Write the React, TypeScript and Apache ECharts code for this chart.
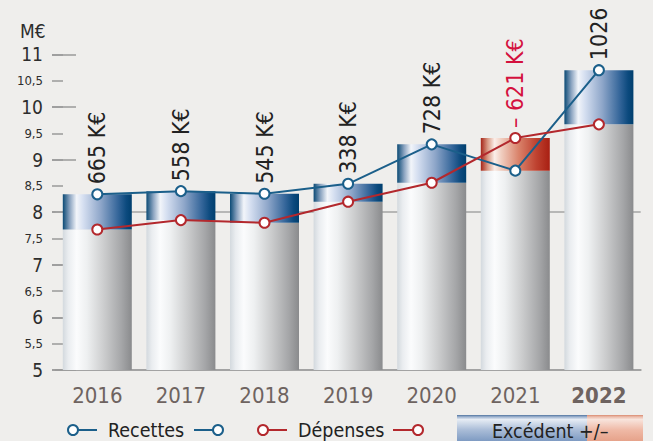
import React, { useEffect, useRef } from "react";
import * as echarts from "echarts";

const years = ["2016", "2017", "2018", "2019", "2020", "2021", "2022"];
const recettes = [8.34, 8.4, 8.35, 8.54, 9.29, 8.79, 10.7];
const depenses = [7.67, 7.85, 7.8, 8.2, 8.56, 9.41, 9.67];
const excedentLabels = ["665 K€", "558 K€", "545 K€", "338 K€", "728 K€", "– 621 K€", "1026 K€"];
const yMin = 5;
const yMax = 11;
const refLine = 8;

const FONT = "'Liberation Sans Narrow', 'DejaVu Sans Condensed', 'Noto Sans', sans-serif";
const BLUE = "#1b5f8a";
const RED = "#b3282d";

const grayGrad = {
  type: "linear", x: 0, y: 0, x2: 1, y2: 0,
  colorStops: [
    { offset: 0, color: "#d3d9de" },
    { offset: 0.08, color: "#eaedf0" },
    { offset: 0.2, color: "#fbfcfd" },
    { offset: 0.35, color: "#eef0f1" },
    { offset: 0.6, color: "#cbcccd" },
    { offset: 0.85, color: "#a5a6a8" },
    { offset: 1, color: "#8a8b8d" },
  ],
};
const blueGrad = {
  type: "linear", x: 0, y: 0, x2: 1, y2: 0,
  colorStops: [
    { offset: 0, color: "#0b4a75" },
    { offset: 0.1, color: "#8aa3c0" },
    { offset: 0.2, color: "#f2f5fa" },
    { offset: 0.3, color: "#d4def0" },
    { offset: 0.55, color: "#8ea6c9" },
    { offset: 0.8, color: "#35669a" },
    { offset: 0.92, color: "#0c4a7e" },
    { offset: 1, color: "#003f6e" },
  ],
};
const redGrad = {
  type: "linear", x: 0, y: 0, x2: 1, y2: 0,
  colorStops: [
    { offset: 0, color: "#a52418" },
    { offset: 0.1, color: "#d99a85" },
    { offset: 0.2, color: "#fbeee9" },
    { offset: 0.3, color: "#f0cdbf" },
    { offset: 0.55, color: "#d9826a" },
    { offset: 0.8, color: "#bf4331" },
    { offset: 1, color: "#a81f12" },
  ],
};

export default function App() {
  const ref = useRef<HTMLDivElement>(null);
  useEffect(() => {
    document.body.style.margin = "0";
    const chart = echarts.init(ref.current!, null, { renderer: "svg" });
    const base = years.map((_, i) => Math.min(recettes[i], depenses[i]));
    const diff = years.map((_, i) => {
      const pos = recettes[i] >= depenses[i];
      return {
        value: Math.abs(recettes[i] - depenses[i]),
        itemStyle: { color: pos ? blueGrad : redGrad },
        label: { color: pos ? "#222222" : "#d4113e" },
      };
    });
    const option: any = {
      animation: false,
      backgroundColor: "#efeeec",
      grid: { left: 55.5, right: 12.3, top: 54.4, bottom: 71 },
      xAxis: {
        type: "category",
        data: years,
        axisTick: { show: false },
        axisLine: { lineStyle: { color: "#a3a3a3", width: 2 } },
        axisLabel: {
          interval: 0,
          margin: 14,
          fontSize: 22,
          fontFamily: FONT,
          color: "#6e6360",
          formatter: (v: string) => (v === "2022" ? `{b|${v}}` : v),
          rich: { b: { fontSize: 22, fontFamily: FONT, color: "#6e6360", fontWeight: "bold" } },
        },
      },
      yAxis: [
        {
          type: "value", position: "left", min: yMin, max: yMax, interval: 1, offset: 3.5,
          axisLine: { show: false },
          splitLine: { show: false },
          axisTick: { show: true, inside: true, length: 24, lineStyle: { color: "#9a9a9a", width: 1.5 } },
          axisLabel: { margin: 9, fontSize: 19, fontFamily: FONT, color: "#2d2d2d" },
        },
        {
          type: "value", position: "left", min: yMin, max: yMax, interval: 0.5, offset: 3.5,
          axisLine: { show: false },
          splitLine: { show: false },
          axisTick: { show: true, inside: true, length: 11, lineStyle: { color: "#9a9a9a", width: 1.5 } },
          axisLabel: {
            margin: 9, fontSize: 13, fontFamily: FONT, color: "#2d2d2d",
            formatter: (v: number) => (Number.isInteger(v) ? "" : String(v).replace(".", ",")),
          },
        },
      ],
      series: [
        {
          type: "line",
          data: [],
          silent: true,
          markLine: {
            z: 1,
            silent: true,
            symbol: "none",
            label: { show: false },
            lineStyle: { color: "#a5a5a5", width: 1.5, type: "solid" },
            data: [{ yAxis: refLine }],
          },
        },
        {
          type: "bar", stack: "s", z: 2, barWidth: 69, data: base,
          itemStyle: { color: grayGrad },
        },
        {
          type: "bar", stack: "s", z: 2, barWidth: 69, data: diff,
          label: {
            show: true, position: "top", rotate: 90, align: "left", verticalAlign: "middle",
            distance: 10, fontSize: 23, fontFamily: FONT,
            formatter: (p: any) => excedentLabels[p.dataIndex],
          },
        },
        {
          type: "line", name: "Recettes", z: 4, data: recettes,
          symbol: "circle", symbolSize: 10,
          lineStyle: { color: BLUE, width: 2 },
          itemStyle: { color: "#ffffff", borderColor: BLUE, borderWidth: 2 },
        },
        {
          type: "line", name: "Dépenses", z: 4, data: depenses,
          symbol: "circle", symbolSize: 10,
          lineStyle: { color: RED, width: 2 },
          itemStyle: { color: "#ffffff", borderColor: RED, borderWidth: 2 },
        },
      ],
      graphic: [
        { type: "text", left: 20, top: 21, style: { text: "M€", fontSize: 19, fontFamily: FONT, fill: "#2d2d2d" } },
        // legend Recettes
        { type: "line", shape: { x1: 78, y1: 430, x2: 97, y2: 430 }, style: { stroke: BLUE, lineWidth: 2 } },
        { type: "circle", shape: { cx: 73, cy: 430, r: 5 }, style: { fill: "#fff", stroke: BLUE, lineWidth: 2 } },
        { type: "text", x: 108, y: 430, style: { text: "Recettes", fontSize: 19.5, fontFamily: FONT, fill: "#222", verticalAlign: "middle" } },
        { type: "line", shape: { x1: 194, y1: 430, x2: 213, y2: 430 }, style: { stroke: BLUE, lineWidth: 2 } },
        { type: "circle", shape: { cx: 218, cy: 430, r: 5 }, style: { fill: "#fff", stroke: BLUE, lineWidth: 2 } },
        // legend Dépenses
        { type: "line", shape: { x1: 268, y1: 430, x2: 287, y2: 430 }, style: { stroke: RED, lineWidth: 2 } },
        { type: "circle", shape: { cx: 263, cy: 430, r: 5 }, style: { fill: "#fff", stroke: RED, lineWidth: 2 } },
        { type: "text", x: 298, y: 430, style: { text: "Dépenses", fontSize: 19.5, fontFamily: FONT, fill: "#222", verticalAlign: "middle" } },
        { type: "line", shape: { x1: 393, y1: 430, x2: 413, y2: 430 }, style: { stroke: RED, lineWidth: 2 } },
        { type: "circle", shape: { cx: 418, cy: 430, r: 5 }, style: { fill: "#fff", stroke: RED, lineWidth: 2 } },
        // legend Excédent
        {
          type: "rect", shape: { x: 457, y: 415, width: 130, height: 30 },
          style: {
            fill: {
              type: "linear", x: 0, y: 0, x2: 0, y2: 1,
              colorStops: [
                { offset: 0, color: "#4f739e" },
                { offset: 0.06, color: "#9db2cf" },
                { offset: 0.15, color: "#e6ecf4" },
                { offset: 0.5, color: "#a9bcd7" },
                { offset: 1, color: "#6f8fbb" },
              ],
            },
          },
        },
        {
          type: "rect", shape: { x: 587, y: 415, width: 56, height: 30 },
          style: {
            fill: {
              type: "linear", x: 0, y: 0, x2: 0, y2: 1,
              colorStops: [
                { offset: 0, color: "#d98a70" },
                { offset: 0.06, color: "#ecbcab" },
                { offset: 0.15, color: "#f8e4dc" },
                { offset: 0.5, color: "#efb9a6" },
                { offset: 1, color: "#e39a80" },
              ],
            },
          },
        },
        { type: "text", x: 492, y: 431, style: { text: "Excédent +/–", fontSize: 19.5, fontFamily: FONT, fill: "#222", verticalAlign: "middle" } },
      ],
    };
    chart.setOption(option);
    return () => chart.dispose();
  }, []);
  return <div ref={ref} style={{ width: 653, height: 441 }} />;
}
